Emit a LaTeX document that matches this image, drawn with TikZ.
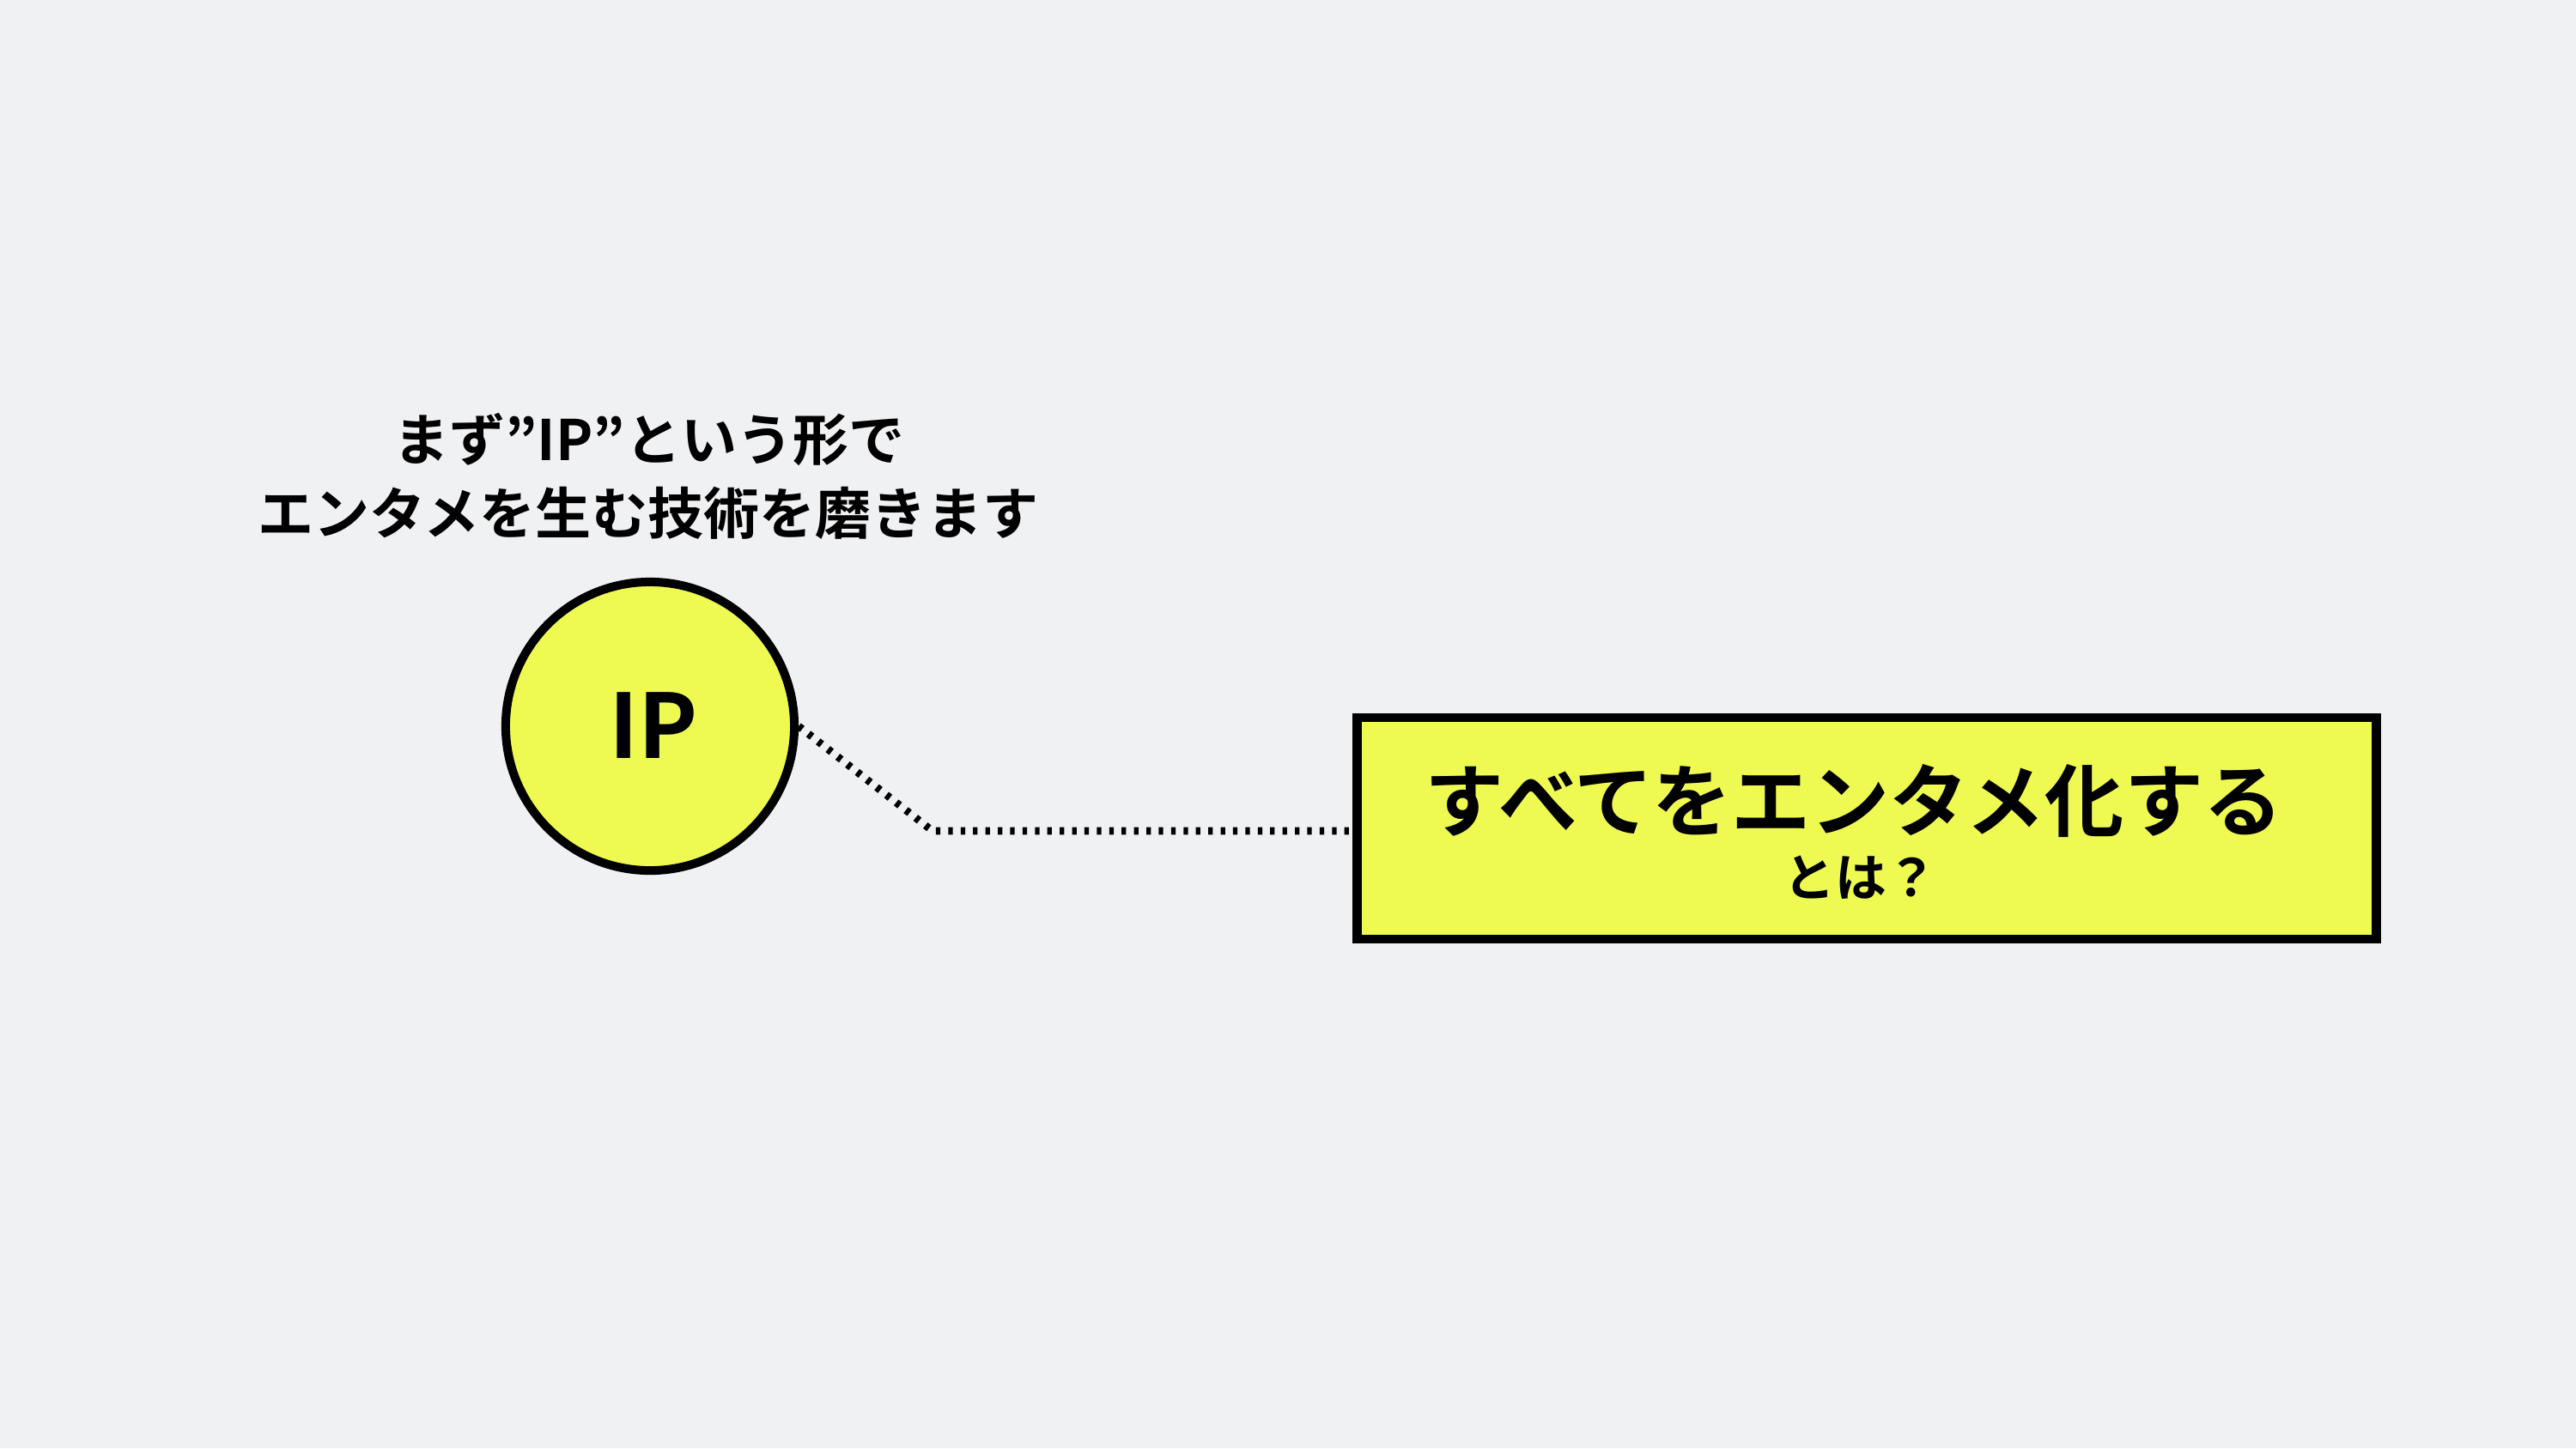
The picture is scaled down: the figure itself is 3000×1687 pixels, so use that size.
\documentclass[tikz,border=0pt]{standalone}
\usepackage{fontspec}
\setmainfont{Noto Sans CJK JP}[BoldFont={* Bold}]
\definecolor{bg}{RGB}{240,241,243}
\definecolor{ylw}{RGB}{238,250,82}
\begin{document}
\begin{tikzpicture}[x=0.01cm,y=-0.01cm,
  lbl/.style={inner sep=0pt,font=\bfseries,text=black},
  circ/.style={circle,draw=black,fill=ylw,line width=2.85pt,minimum size=3.36cm,inner sep=0pt},
  boxn/.style={rectangle,draw=black,fill=ylw,line width=3pt,minimum width=11.86cm,minimum height=2.58cm,inner sep=0pt},
  dotline/.style={line width=2.5pt,dash pattern=on 1.5pt off 2.6pt}]
\fill[bg] (0,0) rectangle (3000,1687);
\useasboundingbox (0,0) rectangle (3000,1687);
\node[circ] (ip) at (757,846) {};
\node[lbl,font=\fontsize{29.5pt}{30pt}\bfseries] (iptext) at (761,845) {IP};
\node[lbl,font=\fontsize{18.5pt}{20pt}\bfseries] (top1) at (756,512) {まず”IP”という形で};
\node[lbl,font=\fontsize{18.5pt}{20pt}\bfseries] (top2) at (755,598) {エンタメを生む技術を磨きます};
\node[boxn] (box) at (2174,965) {};
\node[lbl,font=\fontsize{26.2pt}{27pt}\bfseries] (main) at (2159,933) {すべてをエンタメ化する};
\node[lbl,font=\fontsize{17pt}{18pt}\bfseries] (sub) at (2167,1022) {とは？};
\coordinate (bend) at (1086,968);
\draw[dotline] (ip.east) -- (bend) -- (box.west |- bend);
\end{tikzpicture}
\end{document}
